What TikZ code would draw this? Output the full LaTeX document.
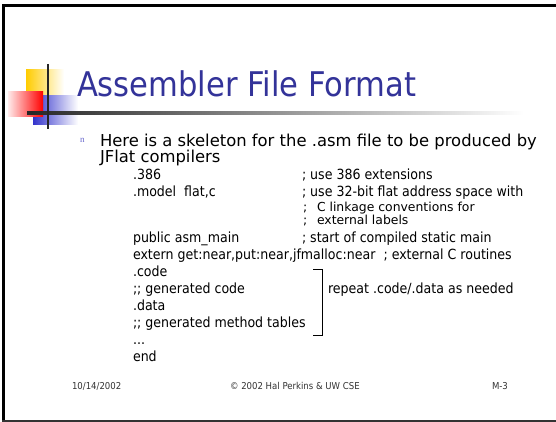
\documentclass[tikz,border=0pt]{standalone}
\usepackage{fontspec}
\setmainfont{DejaVu Sans}[FakeStretch=0.9]
\newfontfamily\widefont{DejaVu Sans}
\newfontfamily\bulletfont{Liberation Serif}
\definecolor{titleblue}{HTML}{333399}
\definecolor{logoyellow}{HTML}{FFCC00}
\definecolor{logored}{HTML}{FF0000}
\definecolor{logoblue}{HTML}{3333CC}
\definecolor{footgray}{HTML}{333333}
\definecolor{bulletblue}{HTML}{6666CC}
\tikzset{
  txt/.style={anchor=base west, inner sep=0pt, outer sep=0pt},
  titletxt/.style={txt, text=titleblue, font=\fontsize{34}{34}\selectfont},
  bodytxt/.style={txt, font=\widefont\fontsize{16.4}{16.4}\selectfont},
  codetxt/.style={txt, font=\fontsize{14}{14}\selectfont},
  smalltxt/.style={txt, font=\widefont\fontsize{12.4}{12.4}\selectfont},
  foottxt/.style={txt, text=footgray, font=\fontsize{9.5}{9.5}\selectfont},
  bullettxt/.style={txt, text=bulletblue, font=\bulletfont\fontsize{9}{9}\selectfont},
}
\begin{document}
\begin{tikzpicture}[x=1pt,y=-1pt]
\useasboundingbox (0,0) rectangle (556,422);
\fill[white] (0,0) rectangle (556,422);

% slide frame
\draw[line width=3pt] (557,5.5) -- (3,5.5) -- (3,421);
\draw[footgray, line width=2pt] (2,421) -- (557,421);

% title logo
\shade[left color=logoyellow, middle color=logoyellow, right color=white] (26,70) rectangle (64,104);
\shade[left color=logoblue, middle color=logoblue, right color=white] (33,96) rectangle (78,125);
\shade[left color=logored!8, right color=logored] (8,92) rectangle (43,117);
\shade[left color=black!85, right color=white] (27,112) rectangle (524,114.2);
\draw[black!85, line width=1.6pt] (48,64) -- (48,129);

% title
\node[titletxt] (title) at (77,97) {Assembler File Format};

% bullet text
\node[bullettxt] (bullet) at (80,143) {n};
\node[bodytxt] (line1) at (100,147) {Here is a skeleton for the .asm file to be produced by};
\node[bodytxt] (line2) at (100,163) {JFlat compilers};

% skeleton listing
\node[codetxt] (c1) at (133,179) {.386};
\node[codetxt] (m1) at (302,179) {; use 386 extensions};
\node[codetxt] (c2) at (133,196) {.model\ \ flat,c};
\node[codetxt] (m2) at (302,196) {; use 32-bit flat address space with};
\node[smalltxt] (s1) at (303,211) {;};
\node[smalltxt] (m3) at (317,211) {C linkage conventions for};
\node[smalltxt] (s2) at (303,224) {;};
\node[smalltxt] (m4) at (317,224) {external labels};
\node[codetxt] (c3) at (133,242) {public asm\_main};
\node[codetxt] (m5) at (302,242) {; start of compiled static main};
\node[codetxt] (c4) at (133,259) {extern get:near,put:near,jfmalloc:near\ \ ; external C routines};
\node[codetxt] (c5) at (133,276) {.code};
\node[codetxt] (c6) at (133,293) {;; generated code};
\node[codetxt] (c7) at (133,310) {.data};
\node[codetxt] (c8) at (133,327) {;; generated method tables};
\node[codetxt] (c9) at (133,344) {...};
\node[codetxt] (c10) at (133,361) {end};

% bracket around the .code/.data section
\coordinate (bt) at (313,269);
\coordinate (bb) at (313,335);
\draw[line width=1pt] (bt) -- ++(9,0) |- (bb);
\node[codetxt] (rep) at (328,293) {repeat .code/.data as needed};

% footer
\node[foottxt] (date) at (72,389) {10/14/2002};
\node[foottxt] (copy) at (230,389) {© 2002 Hal Perkins \& UW CSE};
\node[foottxt] (page) at (492,389) {M-3};
\end{tikzpicture}
\end{document}
